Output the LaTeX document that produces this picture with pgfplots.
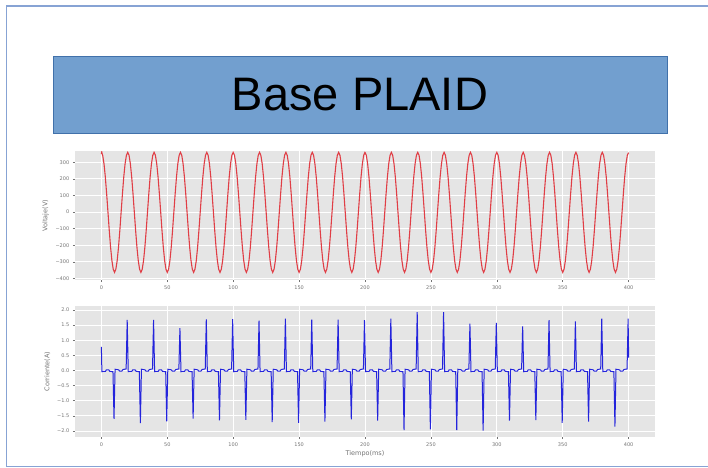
\documentclass[border=0pt]{standalone}
\usepackage{pgfplots}
\pgfplotsset{compat=1.18}
\usepackage{fontspec}
\setmainfont{Liberation Sans}
\newfontfamily\mplfont{DejaVu Sans}

\definecolor{framecol}{RGB}{135,163,212}
\definecolor{boxfill}{RGB}{114,159,207}
\definecolor{boxedge}{RGB}{65,113,170}
\definecolor{panel}{RGB}{229,229,229}
\definecolor{ticktext}{RGB}{115,115,115}
\definecolor{vred}{RGB}{224,62,70}
\definecolor{iblue}{RGB}{36,36,220}

\pgfplotsset{
  ggstyle/.style={
    scale only axis,
    width=580pt,
    xmin=-20, xmax=420,
    axis background/.style={fill=panel},
    axis line style={draw=none},
    grid=major,
    major grid style={white, line width=0.8pt},
    tick align=outside,
    xtick pos=bottom, ytick pos=left,
    major tick length=2.2pt,
    tick style={ticktext, line width=0.5pt},
    ticklabel style={font=\mplfont\fontsize{5}{6}\selectfont, text=ticktext},
    label style={font=\mplfont\fontsize{6.5}{8}\selectfont, text=ticktext},
    /pgf/number format/assume math mode=true,
    xtick={0,50,...,400},
  }
}

\begin{document}
\begin{tikzpicture}
\useasboundingbox (0pt,0pt) rectangle (708pt,467pt);
% slide frame
\draw[framecol, line width=1.3pt] (708pt,461pt) -- (6.5pt,461pt) -- (6.5pt,0.8pt) -- (708pt,0.8pt);
% title box
\draw[boxedge, fill=boxfill, line width=0.8pt] (53pt,334pt) rectangle (667pt,411pt);
\node[font=\fontsize{47}{50}\selectfont, inner sep=0pt] at (360pt,372.5pt) {Base PLAID};

% voltage
\begin{axis}[ggstyle,
  at={(75pt,187pt)}, anchor=south west, height=129pt,
  ymin=-410, ymax=368,
  ytick={-400,-300,-200,-100,0,100,200,300},
  yticklabels={−400,−300,−200,−100,0,100,200,300},
  ylabel={Voltaje(V)},
]
\addplot[vred, line width=1.1pt] coordinates {
(0,350)(0.3,362)(0.6,350)(1,342)(2,291)(3,212)(4,111)(5,0)(6,-112)(7,-213)(8,-293)(9,-345)(10,-364)(11,-345)(12,-293)(13,-213)(14,-112)(15,0)(16,111)(17,212)(18,291)(19,342)
(20,360)(21,342)(22,291)(23,212)(24,111)(25,0)(26,-112)(27,-213)(28,-293)(29,-345)(30,-364)(31,-345)(32,-293)(33,-213)(34,-112)(35,0)(36,111)(37,212)(38,291)(39,342)
(40,360)(41,342)(42,291)(43,212)(44,111)(45,0)(46,-112)(47,-213)(48,-293)(49,-345)(50,-364)(51,-345)(52,-293)(53,-213)(54,-112)(55,0)(56,111)(57,212)(58,291)(59,342)
(60,360)(61,342)(62,291)(63,212)(64,111)(65,0)(66,-112)(67,-213)(68,-293)(69,-345)(70,-364)(71,-345)(72,-293)(73,-213)(74,-112)(75,0)(76,111)(77,212)(78,291)(79,342)
(80,360)(81,342)(82,291)(83,212)(84,111)(85,0)(86,-112)(87,-213)(88,-293)(89,-345)(90,-364)(91,-345)(92,-293)(93,-213)(94,-112)(95,0)(96,111)(97,212)(98,291)(99,342)
(100,360)(101,342)(102,291)(103,212)(104,111)(105,0)(106,-112)(107,-213)(108,-293)(109,-345)(110,-364)(111,-345)(112,-293)(113,-213)(114,-112)(115,0)(116,111)(117,212)(118,291)(119,342)
(120,360)(121,342)(122,291)(123,212)(124,111)(125,0)(126,-112)(127,-213)(128,-293)(129,-345)(130,-364)(131,-345)(132,-293)(133,-213)(134,-112)(135,0)(136,111)(137,212)(138,291)(139,342)
(140,360)(141,342)(142,291)(143,212)(144,111)(145,0)(146,-112)(147,-213)(148,-293)(149,-345)(150,-364)(151,-345)(152,-293)(153,-213)(154,-112)(155,0)(156,111)(157,212)(158,291)(159,342)
(160,360)(161,342)(162,291)(163,212)(164,111)(165,0)(166,-112)(167,-213)(168,-293)(169,-345)(170,-364)(171,-345)(172,-293)(173,-213)(174,-112)(175,0)(176,111)(177,212)(178,291)(179,342)
(180,360)(181,342)(182,291)(183,212)(184,111)(185,0)(186,-112)(187,-213)(188,-293)(189,-345)(190,-364)(191,-345)(192,-293)(193,-213)(194,-112)(195,0)(196,111)(197,212)(198,291)(199,342)
(200,360)(201,342)(202,291)(203,212)(204,111)(205,0)(206,-112)(207,-213)(208,-293)(209,-345)(210,-364)(211,-345)(212,-293)(213,-213)(214,-112)(215,0)(216,111)(217,212)(218,291)(219,342)
(220,360)(221,342)(222,291)(223,212)(224,111)(225,0)(226,-112)(227,-213)(228,-293)(229,-345)(230,-364)(231,-345)(232,-293)(233,-213)(234,-112)(235,0)(236,111)(237,212)(238,291)(239,342)
(240,360)(241,342)(242,291)(243,212)(244,111)(245,0)(246,-112)(247,-213)(248,-293)(249,-345)(250,-364)(251,-345)(252,-293)(253,-213)(254,-112)(255,0)(256,111)(257,212)(258,291)(259,342)
(260,360)(261,342)(262,291)(263,212)(264,111)(265,0)(266,-112)(267,-213)(268,-293)(269,-345)(270,-364)(271,-345)(272,-293)(273,-213)(274,-112)(275,0)(276,111)(277,212)(278,291)(279,342)
(280,360)(281,342)(282,291)(283,212)(284,111)(285,0)(286,-112)(287,-213)(288,-293)(289,-345)(290,-364)(291,-345)(292,-293)(293,-213)(294,-112)(295,0)(296,111)(297,212)(298,291)(299,342)
(300,360)(301,342)(302,291)(303,212)(304,111)(305,0)(306,-112)(307,-213)(308,-293)(309,-345)(310,-364)(311,-345)(312,-293)(313,-213)(314,-112)(315,0)(316,111)(317,212)(318,291)(319,342)
(320,360)(321,342)(322,291)(323,212)(324,111)(325,0)(326,-112)(327,-213)(328,-293)(329,-345)(330,-364)(331,-345)(332,-293)(333,-213)(334,-112)(335,0)(336,111)(337,212)(338,291)(339,342)
(340,360)(341,342)(342,291)(343,212)(344,111)(345,0)(346,-112)(347,-213)(348,-293)(349,-345)(350,-364)(351,-345)(352,-293)(353,-213)(354,-112)(355,0)(356,111)(357,212)(358,291)(359,342)
(360,360)(361,342)(362,291)(363,212)(364,111)(365,0)(366,-112)(367,-213)(368,-293)(369,-345)(370,-364)(371,-345)(372,-293)(373,-213)(374,-112)(375,0)(376,111)(377,212)(378,291)(379,342)
(380,360)(381,342)(382,291)(383,212)(384,111)(385,0)(386,-112)(387,-213)(388,-293)(389,-345)(390,-364)(391,-345)(392,-293)(393,-213)(394,-112)(395,0)(396,111)(397,212)(398,291)(399,342)
(400,358)
};
\end{axis}

% current
\begin{axis}[ggstyle,
  at={(75pt,30.3pt)}, anchor=south west, height=130.7pt,
  ymin=-2.19, ymax=2.13,
  ytick={-2,-1.5,-1,-0.5,0,0.5,1,1.5,2},
  yticklabels={−2.0,−1.5,−1.0,−0.5,0.0,0.5,1.0,1.5,2.0},
  ylabel={Corriente(A)},
  xlabel={Tiempo(ms)},
  xlabel style={yshift=3pt},
]
\addplot[iblue, line width=1pt] coordinates {
(0,0.78)(0.4,-0.04)(1.6,-0.03)(3.1,-0.03)(3.8,0.02)(5.6,0.02)(6.4,-0.03)(8.8,-0.04)(9.6,-1.60)(10.4,0.04)(11.6,0.03)(13.1,0.02)(13.8,-0.02)(15.6,-0.02)(16.4,0.03)(18.8,0.05)(19.6,1.67)
(20.4,-0.04)(21.6,-0.03)(23.1,-0.03)(23.8,0.02)(25.6,0.02)(26.4,-0.03)(28.8,-0.04)(29.6,-1.74)(30.4,0.04)(31.6,0.03)(33.1,0.02)(33.8,-0.02)(35.6,-0.02)(36.4,0.03)(38.8,0.05)(39.6,1.67)
(40.4,-0.04)(41.6,-0.03)(43.1,-0.03)(43.8,0.02)(45.6,0.02)(46.4,-0.03)(48.8,-0.04)(49.6,-1.68)(50.4,0.04)(51.6,0.03)(53.1,0.02)(53.8,-0.02)(55.6,-0.02)(56.4,0.03)(58.8,0.05)(59.6,1.40)
(60.4,-0.04)(61.6,-0.03)(63.1,-0.03)(63.8,0.02)(65.6,0.02)(66.4,-0.03)(68.8,-0.04)(69.6,-1.59)(70.4,0.04)(71.6,0.03)(73.1,0.02)(73.8,-0.02)(75.6,-0.02)(76.4,0.03)(78.8,0.05)(79.6,1.69)
(80.4,-0.04)(81.6,-0.03)(83.1,-0.03)(83.8,0.02)(85.6,0.02)(86.4,-0.03)(88.8,-0.04)(89.6,-1.65)(90.4,0.04)(91.6,0.03)(93.1,0.02)(93.8,-0.02)(95.6,-0.02)(96.4,0.03)(98.8,0.05)(99.6,1.70)
(100.4,-0.04)(101.6,-0.03)(103.1,-0.03)(103.8,0.02)(105.6,0.02)(106.4,-0.03)(108.8,-0.04)(109.6,-1.63)(110.4,0.04)(111.6,0.03)(113.1,0.02)(113.8,-0.02)(115.6,-0.02)(116.4,0.03)(118.8,0.05)(119.6,1.65)
(120.4,-0.04)(121.6,-0.03)(123.1,-0.03)(123.8,0.02)(125.6,0.02)(126.4,-0.03)(128.8,-0.04)(129.6,-1.71)(130.4,0.04)(131.6,0.03)(133.1,0.02)(133.8,-0.02)(135.6,-0.02)(136.4,0.03)(138.8,0.05)(139.6,1.71)
(140.4,-0.04)(141.6,-0.03)(143.1,-0.03)(143.8,0.02)(145.6,0.02)(146.4,-0.03)(148.8,-0.04)(149.6,-1.73)(150.4,0.04)(151.6,0.03)(153.1,0.02)(153.8,-0.02)(155.6,-0.02)(156.4,0.03)(158.8,0.05)(159.6,1.68)
(160.4,-0.04)(161.6,-0.03)(163.1,-0.03)(163.8,0.02)(165.6,0.02)(166.4,-0.03)(168.8,-0.04)(169.6,-1.69)(170.4,0.04)(171.6,0.03)(173.1,0.02)(173.8,-0.02)(175.6,-0.02)(176.4,0.03)(178.8,0.05)(179.6,1.68)
(180.4,-0.04)(181.6,-0.03)(183.1,-0.03)(183.8,0.02)(185.6,0.02)(186.4,-0.03)(188.8,-0.04)(189.6,-1.62)(190.4,0.04)(191.6,0.03)(193.1,0.02)(193.8,-0.02)(195.6,-0.02)(196.4,0.03)(198.8,0.05)(199.6,1.66)
(200.4,-0.04)(201.6,-0.03)(203.1,-0.03)(203.8,0.02)(205.6,0.02)(206.4,-0.03)(208.8,-0.04)(209.6,-1.66)(210.4,0.04)(211.6,0.03)(213.1,0.02)(213.8,-0.02)(215.6,-0.02)(216.4,0.03)(218.8,0.05)(219.6,1.71)
(220.4,-0.04)(221.6,-0.03)(223.1,-0.03)(223.8,0.02)(225.6,0.02)(226.4,-0.03)(228.8,-0.04)(229.6,-1.97)(230.4,0.04)(231.6,0.03)(233.1,0.02)(233.8,-0.02)(235.6,-0.02)(236.4,0.03)(238.8,0.05)(239.6,1.93)
(240.4,-0.04)(241.6,-0.03)(243.1,-0.03)(243.8,0.02)(245.6,0.02)(246.4,-0.03)(248.8,-0.04)(249.6,-1.95)(250.4,0.04)(251.6,0.03)(253.1,0.02)(253.8,-0.02)(255.6,-0.02)(256.4,0.03)(258.8,0.05)(259.6,1.93)
(260.4,-0.04)(261.6,-0.03)(263.1,-0.03)(263.8,0.02)(265.6,0.02)(266.4,-0.03)(268.8,-0.04)(269.6,-1.97)(270.4,0.04)(271.6,0.03)(273.1,0.02)(273.8,-0.02)(275.6,-0.02)(276.4,0.03)(278.8,0.05)(279.6,1.55)
(280.4,-0.04)(281.6,-0.03)(283.1,-0.03)(283.8,0.02)(285.6,0.02)(286.4,-0.03)(288.8,-0.04)(289.6,-1.99)(290.4,0.04)(291.6,0.03)(293.1,0.02)(293.8,-0.02)(295.6,-0.02)(296.4,0.03)(298.8,0.05)(299.6,1.57)
(300.4,-0.04)(301.6,-0.03)(303.1,-0.03)(303.8,0.02)(305.6,0.02)(306.4,-0.03)(308.8,-0.04)(309.6,-1.66)(310.4,0.04)(311.6,0.03)(313.1,0.02)(313.8,-0.02)(315.6,-0.02)(316.4,0.03)(318.8,0.05)(319.6,1.46)
(320.4,-0.04)(321.6,-0.03)(323.1,-0.03)(323.8,0.02)(325.6,0.02)(326.4,-0.03)(328.8,-0.04)(329.6,-1.64)(330.4,0.04)(331.6,0.03)(333.1,0.02)(333.8,-0.02)(335.6,-0.02)(336.4,0.03)(338.8,0.05)(339.6,1.66)
(340.4,-0.04)(341.6,-0.03)(343.1,-0.03)(343.8,0.02)(345.6,0.02)(346.4,-0.03)(348.8,-0.04)(349.6,-1.73)(350.4,0.04)(351.6,0.03)(353.1,0.02)(353.8,-0.02)(355.6,-0.02)(356.4,0.03)(358.8,0.05)(359.6,1.62)
(360.4,-0.04)(361.6,-0.03)(363.1,-0.03)(363.8,0.02)(365.6,0.02)(366.4,-0.03)(368.8,-0.04)(369.6,-1.69)(370.4,0.04)(371.6,0.03)(373.1,0.02)(373.8,-0.02)(375.6,-0.02)(376.4,0.03)(378.8,0.05)(379.6,1.71)
(380.4,-0.04)(381.6,-0.03)(383.1,-0.03)(383.8,0.02)(385.6,0.02)(386.4,-0.03)(388.8,-0.04)(389.6,-1.86)(390.4,0.04)(391.6,0.03)(393.1,0.02)(393.8,-0.02)(395.6,-0.02)(396.4,0.03)(398.8,0.05)(399.6,1.71)
(400,0.42)
};
\end{axis}
\end{tikzpicture}
\end{document}
